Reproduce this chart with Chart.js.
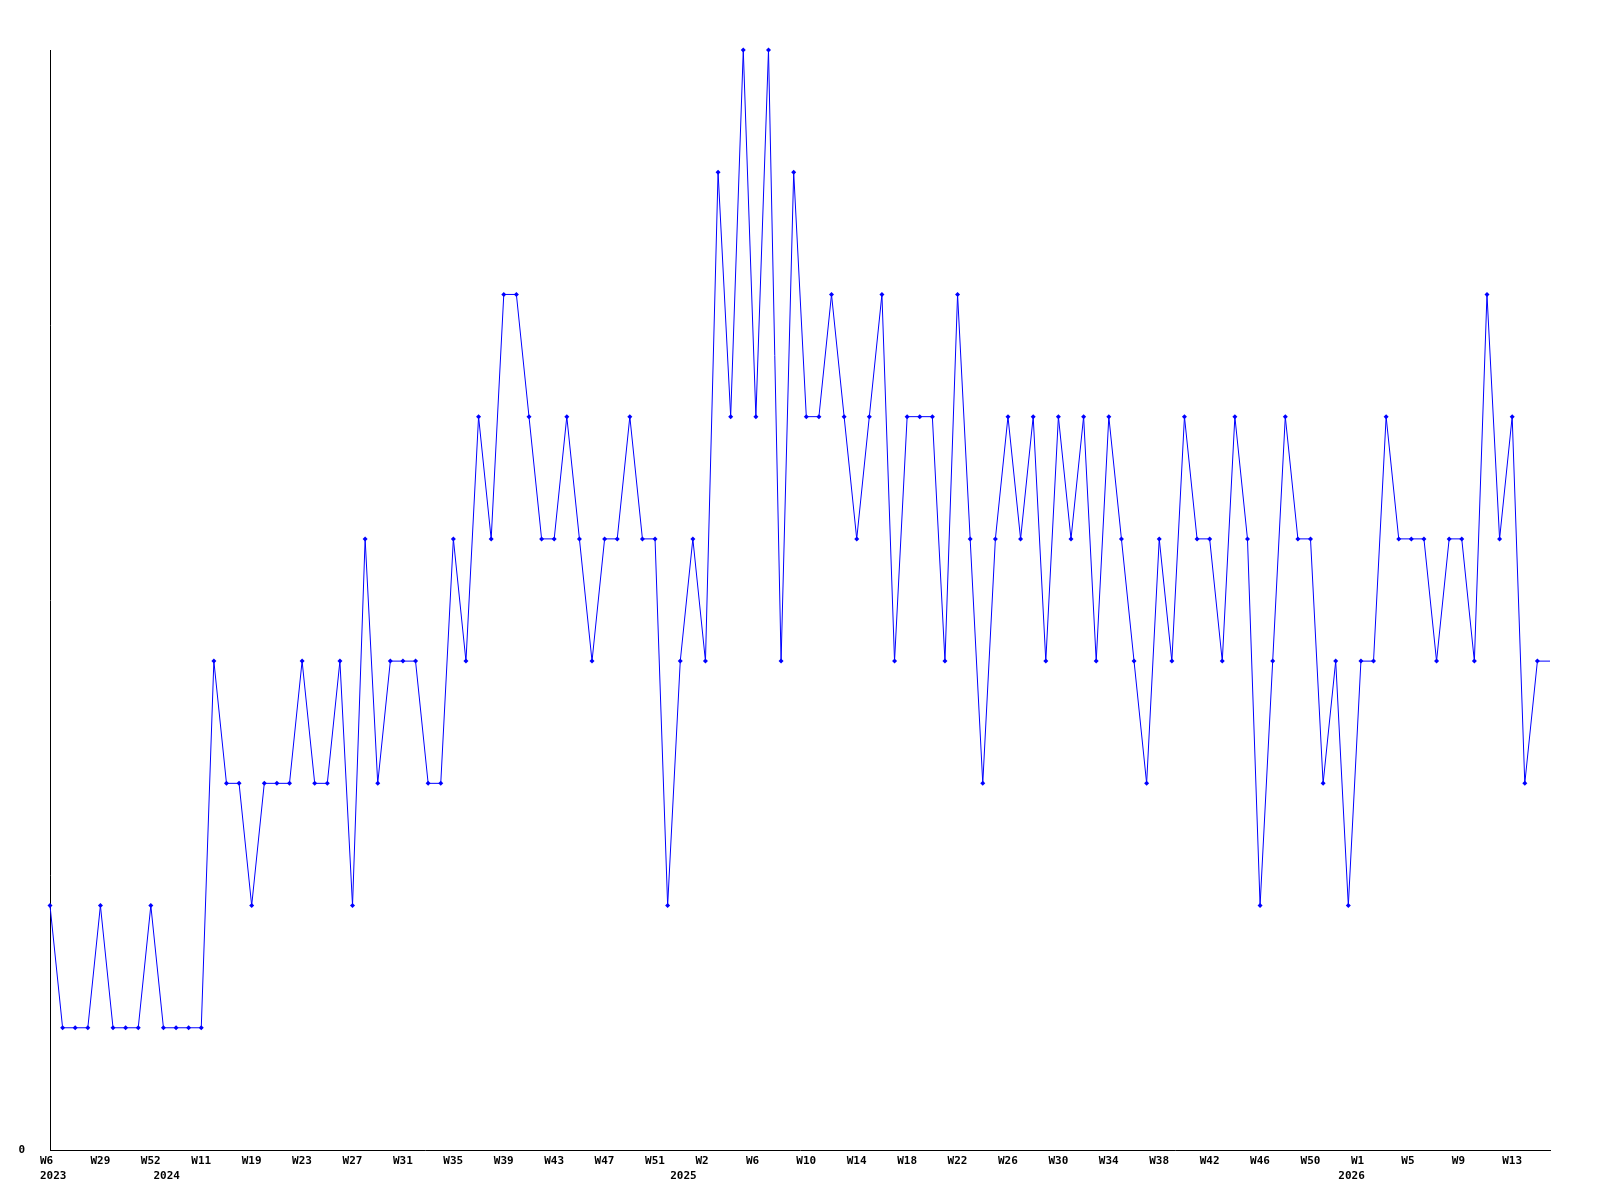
<!DOCTYPE html>
<html>
<head>
<meta charset="utf-8">
<script src="https://cdn.jsdelivr.net/npm/chart.js@4/dist/chart.umd.min.js"></script>
<style>
  body { margin: 0; background: #fff; }
  #wrap { width: 1600px; height: 1200px; }
</style>
</head>
<body>
<div id="wrap"><canvas id="chart"></canvas></div>
<script>
// week labels, one per point (only every 4th one is printed on the axis)
const weeks = [
  "W6", "W12", "W18", "W24", "W29", "W35", "W41", "W47", "W52", "W1",
  "W4", "W8", "W11", "W14", "W16", "W18", "W19", "W20", "W21", "W22",
  "W23", "W24", "W25", "W26", "W27", "W28", "W29", "W30", "W31", "W32",
  "W33", "W34", "W35", "W36", "W37", "W38", "W39", "W40", "W41", "W42",
  "W43", "W44", "W45", "W46", "W47", "W48", "W49", "W50", "W51", "W52",
  "W0", "W1", "W2", "W3", "W4", "W5", "W6", "W7", "W8", "W9",
  "W10", "W11", "W12", "W13", "W14", "W15", "W16", "W17", "W18", "W19",
  "W20", "W21", "W22", "W23", "W24", "W25", "W26", "W27", "W28", "W29",
  "W30", "W31", "W32", "W33", "W34", "W35", "W36", "W37", "W38", "W39",
  "W40", "W41", "W42", "W43", "W44", "W45", "W46", "W47", "W48", "W49",
  "W50", "W51", "W52", "W0", "W1", "W2", "W3", "W4", "W5", "W6",
  "W7", "W8", "W9", "W10", "W11", "W12", "W13", "W14", "W15", "W16"
];

// first point of each year
const yearIndex = [0, 9, 50, 103];
const yearNames = ["2023", "2024", "2025", "2026"];

const counts = [
  2, 1, 1, 1, 2, 1, 1, 1, 2, 1,
  1, 1, 1, 4, 3, 3, 2, 3, 3, 3,
  4, 3, 3, 4, 2, 5, 3, 4, 4, 4,
  3, 3, 5, 4, 6, 5, 7, 7, 6, 5,
  5, 6, 5, 4, 5, 5, 6, 5, 5, 2,
  4, 5, 4, 8, 6, 9, 6, 9, 4, 8,
  6, 6, 7, 6, 5, 6, 7, 4, 6, 6,
  6, 4, 7, 5, 3, 5, 6, 5, 6, 4,
  6, 5, 6, 4, 6, 5, 4, 3, 5, 4,
  6, 5, 5, 4, 6, 5, 2, 4, 6, 5,
  5, 3, 4, 2, 4, 4, 6, 5, 5, 5,
  4, 5, 5, 4, 7, 5, 6, 3, 4, 4
];

const yMax = 9;
const labelEvery = 4;

const tickFont = { family: "'DejaVu Sans Mono', monospace", size: 11, weight: "bold", lineHeight: "15px" };

const ctx = document.getElementById("chart").getContext("2d");
new Chart(ctx, {
  type: "line",
  data: {
    labels: weeks,
    datasets: [{
      data: counts,
      borderColor: "#0000ff",
      backgroundColor: "#0000ff",
      borderWidth: 1,
      tension: 0,
      pointStyle: "rectRot",
      pointRadius: counts.map((v, i) => i === counts.length - 1 ? 0 : 2.5),
      pointBorderWidth: 0,
      clip: false
    }]
  },
  options: {
    responsive: true,
    maintainAspectRatio: false,
    animation: false,
    layout: { padding: { top: 50, right: 50, left: 0, bottom: 0 } },
    plugins: {
      legend: { display: false },
      tooltip: { enabled: false }
    },
    scales: {
      x: {
        type: "category",
        offset: false,
        grid: { display: false, drawTicks: false },
        border: { display: true, color: "#000", width: 1 },
        afterFit: (axis) => { axis.height = 50; },
        ticks: {
          autoSkip: false,
          maxRotation: 0,
          minRotation: 0,
          align: "start",
          labelOffset: -10,
          padding: 4,
          color: "#000",
          font: tickFont,
          callback: function (value, index) {
            const w = index % labelEvery === 0 ? weeks[index] : "";
            const k = yearIndex.indexOf(index);
            return k >= 0 ? [w, yearNames[k]] : w;
          }
        }
      },
      y: {
        min: 0,
        max: yMax,
        grid: { display: false, drawTicks: false },
        border: { display: true, color: "#000", width: 1 },
        afterFit: (axis) => { axis.width = 50; },
        ticks: {
          stepSize: yMax,
          padding: 25,
          color: "#000",
          font: tickFont,
          callback: (value) => value === 0 ? "0" : ""
        }
      }
    }
  }
});
</script>
</body>
</html>
